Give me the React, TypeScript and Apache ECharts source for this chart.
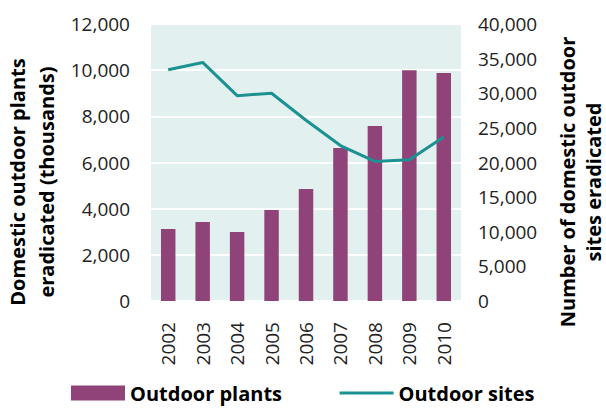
import React, { useEffect, useRef } from "react";
import * as echarts from "echarts";

const years = ["2002", "2003", "2004", "2005", "2006", "2007", "2008", "2009", "2010"];
const outdoorPlants = [3120, 3420, 2990, 3940, 4850, 6630, 7580, 10000, 9880];
const outdoorSites = [33400, 34450, 29650, 30000, 26100, 22450, 20150, 20400, 23700];

const FONT = "'Open Sans', 'Noto Sans', sans-serif";
const PURPLE = "#8f4379";
const TEAL = "#1c9192";

export default function App() {
  const ref = useRef<HTMLDivElement>(null);
  useEffect(() => {
    if (!ref.current) return;
    const chart = echarts.init(ref.current, null, { renderer: "svg" });
    chart.setOption({
      animation: false,
      textStyle: { fontFamily: FONT },
      grid: {
        left: 151,
        right: 145,
        top: 24,
        bottom: 109,
        show: true,
        backgroundColor: "#e2f1ef",
        borderWidth: 0,
      },
      legend: {
        left: 66,
        bottom: 2,
        itemWidth: 54,
        itemHeight: 15,
        itemGap: 56,
        textStyle: { fontFamily: FONT, fontSize: 20, fontWeight: "bold", color: "#000" },
        data: [
          { name: "Outdoor plants", icon: "rect" },
          { name: "Outdoor sites", itemStyle: { opacity: 0 }, lineStyle: { color: TEAL, width: 3 } },
        ],
      },
      xAxis: {
        type: "category",
        data: years,
        axisLine: { show: false },
        axisTick: { show: false },
        axisLabel: {
          rotate: 90,
          margin: 21,
          fontSize: 19,
          color: "#222",
          fontFamily: FONT,
        },
      },
      yAxis: [
        {
          type: "value",
          min: 0,
          max: 12000,
          interval: 2000,
          axisLine: { show: false },
          axisTick: { show: false },
          splitLine: { show: true, lineStyle: { color: "#ffffff", width: 2 } },
          axisLabel: {
            margin: 21,
            fontSize: 19,
            color: "#222",
            fontFamily: FONT,
            formatter: (v: number) => v.toLocaleString("en-US"),
          },
        },
        {
          type: "value",
          min: 0,
          max: 40000,
          interval: 5000,
          position: "right",
          axisLine: { show: false },
          axisTick: { show: false },
          splitLine: { show: false },
          axisLabel: {
            margin: 17,
            fontSize: 19,
            color: "#222",
            fontFamily: FONT,
            formatter: (v: number) => v.toLocaleString("en-US"),
          },
        },
      ],
      graphic: [
        {
          type: "text",
          x: 32,
          y: 182,
          rotation: Math.PI / 2,
          style: {
            text: "Domestic outdoor plants\neradicated (thousands)",
            font: `bold 20px ${FONT}`,
            fill: "#000",
            align: "center",
            verticalAlign: "middle",
            lineHeight: 29,
          },
        },
        {
          type: "text",
          x: 580,
          y: 182,
          rotation: Math.PI / 2,
          style: {
            text: "Number of domestic outdoor\nsites eradicated",
            font: `bold 20px ${FONT}`,
            fill: "#000",
            align: "center",
            verticalAlign: "middle",
            lineHeight: 26,
          },
        },
      ],
      series: [
        {
          name: "Outdoor plants",
          type: "bar",
          data: outdoorPlants,
          barWidth: "42%",
          itemStyle: { color: PURPLE },
          yAxisIndex: 0,
        },
        {
          name: "Outdoor sites",
          type: "line",
          data: outdoorSites,
          yAxisIndex: 1,
          symbol: "none",
          lineStyle: { color: TEAL, width: 3 },
          itemStyle: { color: TEAL },
        },
      ],
    });
    return () => chart.dispose();
  }, []);
  return <div ref={ref} style={{ width: 606, height: 410, position: "absolute", left: 0, top: 0 }} />;
}
